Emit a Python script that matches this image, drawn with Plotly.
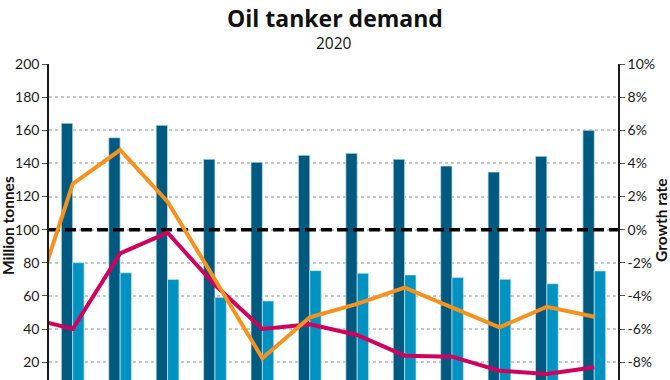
import plotly.graph_objects as go

months = ["Jan", "Feb", "Mar", "Apr", "May", "Jun", "Jul", "Aug", "Sep", "Oct", "Nov", "Dec"]
demand_dark = [164.2, 155.5, 163.0, 142.5, 140.7, 144.9, 146.1, 142.5, 138.4, 134.8, 144.3, 160.0]
demand_light = [80.1, 74.0, 70.0, 59.2, 57.0, 75.3, 73.7, 72.7, 71.1, 70.1, 67.4, 75.1]
# growth rates (%); first value belongs to the previous December (only its segment shows at the left edge)
growth_orange = [-6.0, 2.76, 4.81, 1.69, -3.0, -7.76, -5.29, -4.48, -3.5, -4.68, -5.89, -4.65, -5.25]
growth_magenta = [-5.27, -5.99, -1.43, -0.18, -3.34, -5.99, -5.71, -6.35, -7.6, -7.66, -8.51, -8.71, -8.3]
reference_growth = [0, 0]

left_ticks = [20, 40, 60, 80, 100, 120, 140, 160, 180, 200]
right_tickvals = [-8, -6, -4, -2, 0, 2, 4, 6, 8, 10]
right_ticktext = ["-8%", "-6%", "-4%", "-2%", "0%", "2%", "4%", "6%", "8%", "10%"]

xpos = list(range(len(months)))
line_x = list(range(-1, len(months)))

W, H = 670, 380
L, R, T, B = 49, 52, 64, 0
PW, PH = W - L - R, H - T - B

fig = go.Figure()
edge = dict(color="rgba(200,230,245,0.7)", width=1)
fig.add_trace(go.Bar(x=xpos, y=demand_dark, marker=dict(color="#005a80", line=edge),
                     offsetgroup="a", showlegend=False))
fig.add_trace(go.Bar(x=xpos, y=demand_light, marker=dict(color="#0093c2", line=edge),
                     offsetgroup="b", showlegend=False))
fig.add_trace(go.Scatter(x=[-0.5, 11.5], y=reference_growth, yaxis="y2", mode="lines",
                         line=dict(color="black", width=3.5, dash="11px,5px"), showlegend=False))
fig.add_trace(go.Scatter(x=line_x, y=growth_magenta, yaxis="y2", mode="lines",
                         line=dict(color="#d1005d", width=4), showlegend=False))
fig.add_trace(go.Scatter(x=line_x, y=growth_orange, yaxis="y2", mode="lines",
                         line=dict(color="#f7921e", width=4), showlegend=False))

font = "Lato, 'Open Sans', sans-serif"
fig.update_layout(
    width=W, height=H,
    margin=dict(l=L, r=R, t=T, b=B),
    paper_bgcolor="white", plot_bgcolor="white",
    font=dict(family=font, size=14, color="#1a1a1a"),
    barmode="group", bargap=0.52, bargroupgap=0,
    xaxis=dict(range=[-0.5, 11.5], showticklabels=False, showgrid=False, zeroline=False, ticks=""),
    yaxis=dict(range=[9.3, 200], tickvals=left_ticks, showgrid=True, gridcolor="#c8c8c8", griddash="dot", gridwidth=1.5,
               showline=True, linecolor="#1a1a1a", linewidth=1.5, ticks="outside", ticklen=5, tickcolor="#555",
               zeroline=False),
    yaxis2=dict(range=[-9.07, 10], overlaying="y", side="right", tickvals=right_tickvals, ticktext=right_ticktext,
                showgrid=False, showline=True, linecolor="#1a1a1a", linewidth=1.5, ticks="outside", ticklen=5,
                tickcolor="#555", zeroline=False),
)


def px_to_paper(xp, yp):
    return (xp - L) / PW, 1 - (yp - T) / PH


tx, ty = px_to_paper(335, 1)
fig.add_annotation(text="<b>Oil tanker demand</b>", xref="paper", yref="paper", x=tx, y=ty,
                   xanchor="center", yanchor="top", showarrow=False, borderpad=0,
                   font=dict(family="'Open Sans', Lato, sans-serif", size=23, color="#111"))
sx, sy = px_to_paper(334, 31)
fig.add_annotation(text="2020", xref="paper", yref="paper", x=sx, y=sy,
                   xanchor="center", yanchor="top", showarrow=False, borderpad=0,
                   font=dict(family="'Open Sans', Lato, sans-serif", size=15.5, color="#111"))
ax, ay = px_to_paper(8, 226)
fig.add_annotation(text="<b>Million tonnes</b>", xref="paper", yref="paper", x=ax, y=ay,
                   xanchor="center", yanchor="middle", textangle=-90, showarrow=False,
                   font=dict(size=15.5, color="#111"))
bx, by = px_to_paper(661, 220)
fig.add_annotation(text="<b>Growth rate</b>", xref="paper", yref="paper", x=bx, y=by,
                   xanchor="center", yanchor="middle", textangle=-90, showarrow=False,
                   font=dict(size=15.5, color="#111"))

fig.write_html("out.html", config={"displayModeBar": False},
               post_script="document.body.style.margin='0';")
